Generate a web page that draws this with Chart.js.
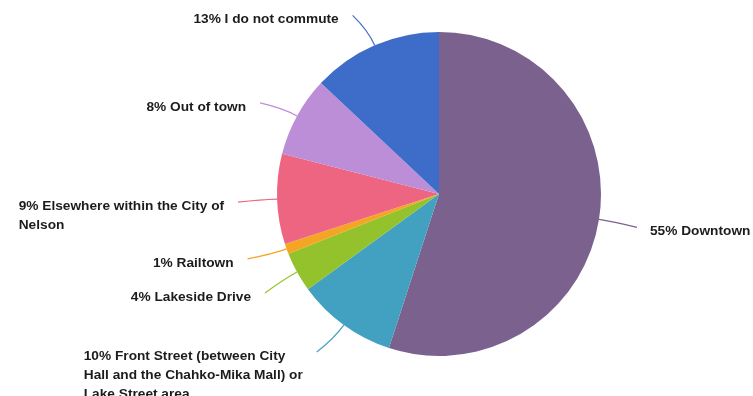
<!DOCTYPE html>
<html>
<head>
<meta charset="utf-8">
<script src="https://cdn.jsdelivr.net/npm/chart.js@4/dist/chart.umd.min.js"></script>
<style>
    body { margin: 0; background: #fff; }
    #wrap { width: 753px; height: 396px; }
</style>
</head>
<body>
<div id="wrap"><canvas id="commute-chart" width="753" height="396"></canvas></div>
<script>
// where people commute to (percent of answers)
const categories = [
    'Downtown',
    'Front Street (between City Hall and the Chahko-Mika Mall) or Lake Street area',
    'Lakeside Drive',
    'Railtown',
    'Elsewhere within the City of Nelson',
    'Out of town',
    'I do not commute'
];
const percents = [55, 10, 4, 1, 9, 8, 13];
const sliceColors = ['#7B618E', '#42A0C0', '#94C22C', '#F5A524', '#EE6582', '#BC8ED8', '#3E6DC9'];

// leader line end, relative to the slice edge at its middle angle
const leaderEnds = [
    [38, 8], [-27, 27], [-32, 21], [-39, 10], [-39, 3], [-37, -13], [-22, -30]
];

const labelFont = 'bold 13.7px "Liberation Sans", Arial, sans-serif';
const maxLabelWidth = 226;
const lineHeight = 19;

function wrapText(ctx, text) {
    const words = text.split(' ');
    const lines = [];
    let line = '';
    words.forEach(w => {
        const test = line ? line + ' ' + w : w;
        if (line && ctx.measureText(test).width > maxLabelWidth) {
            lines.push(line);
            line = w;
        } else {
            line = test;
        }
    });
    if (line) lines.push(line);
    return lines;
}

const sliceLabels = {
    id: 'sliceLabels',
    afterDatasetsDraw(chart) {
        const ctx = chart.ctx;
        const arcs = chart.getDatasetMeta(0).data;
        ctx.save();
        ctx.font = labelFont;
        arcs.forEach((arc, i) => {
            const mid = (arc.startAngle + arc.endAngle) / 2;
            const r = arc.outerRadius;
            const ex = arc.x + Math.cos(mid) * r;
            const ey = arc.y + Math.sin(mid) * r;
            const cx = ex + Math.cos(mid) * 16;
            const cy = ey + Math.sin(mid) * 16;
            const tx = ex + leaderEnds[i][0];
            const ty = ey + leaderEnds[i][1];

            ctx.strokeStyle = sliceColors[i];
            ctx.lineWidth = 1.2;
            ctx.beginPath();
            ctx.moveTo(ex, ey);
            ctx.quadraticCurveTo(cx, cy, tx, ty);
            ctx.stroke();

            const lines = wrapText(ctx, percents[i] + '% ' + categories[i]);
            const onRight = tx > arc.x;
            const blockW = Math.max(...lines.map(l => ctx.measureText(l).width));
            const left = onRight ? tx + 13 : tx - 14 - blockW;
            ctx.fillStyle = '#1c1c1c';
            ctx.textAlign = 'left';
            ctx.textBaseline = 'middle';
            lines.forEach((l, k) => {
                ctx.fillText(l, left, ty + 4 + k * lineHeight);
            });
        });
        ctx.restore();
    }
};

new Chart(document.getElementById('commute-chart'), {
    type: 'pie',
    data: {
        labels: categories,
        datasets: [{
            data: percents,
            backgroundColor: sliceColors,
            borderWidth: 0,
            hoverOffset: 0
        }]
    },
    options: {
        responsive: false,
        animation: false,
        layout: {
            padding: { top: 32, bottom: 40, left: 277, right: 152 }
        },
        plugins: {
            legend: { display: false },
            tooltip: { enabled: false }
        }
    },
    plugins: [sliceLabels]
});
</script>
</body>
</html>
